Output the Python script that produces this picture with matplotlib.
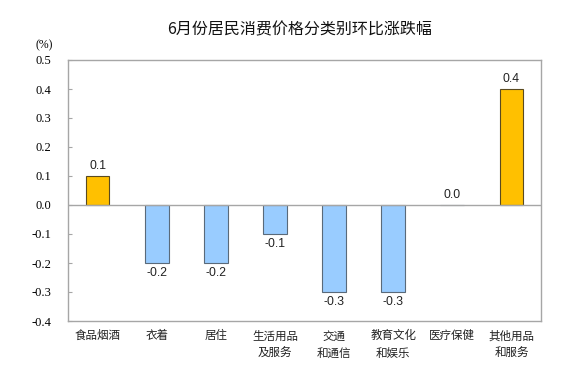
import matplotlib
matplotlib.use("Agg")
import matplotlib.pyplot as plt
from matplotlib.ticker import FixedLocator

plt.rcParams['font.family'] = ['Noto Sans CJK SC', 'DejaVu Sans']

categories = ["食品烟酒", "衣着", "居住", "生活用品\n及服务", "交通\n和通信",
              "教育文化\n和娱乐", "医疗保健", "其他用品\n和服务"]
values = [0.1, -0.2, -0.2, -0.1, -0.3, -0.3, 0.0, 0.4]
yticks = [0.5, 0.4, 0.3, 0.2, 0.1, 0.0, -0.1, -0.2, -0.3, -0.4]
title = "6月份居民消费价格分类别环比涨跌幅"

fig = plt.figure(figsize=(5.8, 3.74), dpi=100)
ax = fig.add_axes([68/580, 1-321/374, (541-68)/580, (321-60)/374])

x = list(range(len(categories)))
colors = ["#FFC000" if v > 0 else "#99CCFF" for v in values]
edges = ["#5a4a20" if v > 0 else "#5a6a7a" for v in values]
ax.bar(x, values, width=0.4, color=colors, edgecolor=edges, linewidth=0.8, zorder=3)

for xi, v in zip(x, values):
    if v >= 0:
        ax.annotate(f"{v:.1f}", (xi, v), xytext=(0, 3), textcoords="offset points",
                    ha="center", va="bottom", fontsize=8.8, family="Liberation Sans", color="#222222")
    else:
        ax.annotate(f"{v:.1f}", (xi, v), xytext=(0, -3), textcoords="offset points",
                    ha="center", va="top", fontsize=8.8, family="Liberation Sans", color="#222222")

ax.axhline(0, color="#a6a6a6", linewidth=1.0, zorder=4)
ax.set_xlim(-0.5, len(categories) - 0.5)
ax.set_ylim(-0.4, 0.5)
ax.yaxis.set_major_locator(FixedLocator(yticks))
ax.set_yticklabels([f"{t:.1f}" for t in yticks], family="Liberation Serif", fontsize=9)
ax.tick_params(axis="y", direction="in", length=3, color="#a6a6a6", pad=12)
ax.set_xticks(x)
ax.set_xticklabels(categories, fontsize=8.3, linespacing=1.45, color="#222222")
ax.tick_params(axis="x", length=0, pad=6)
for s in ax.spines.values():
    s.set_color("#a6a6a6")
    s.set_linewidth(1.0)

fig.text(53/580, 1-45/374, "(%)", ha="right", va="center", family="Liberation Serif", fontsize=8.5)
fig.text(300/580, 1-30/374, title, ha="center", va="center", fontsize=11.5, color="#111111")

fig.savefig("out.png", dpi=100)
